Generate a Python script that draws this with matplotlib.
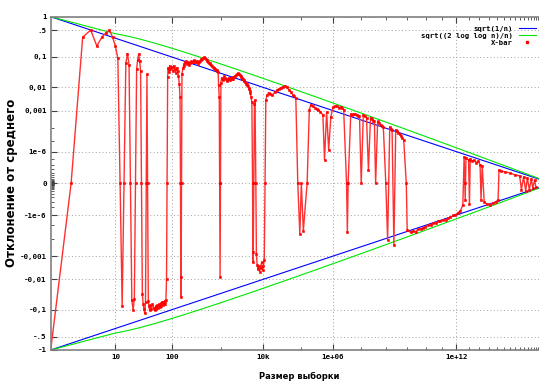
import numpy as np
import matplotlib
matplotlib.use('Agg')
import matplotlib.pyplot as plt
from matplotlib.lines import Line2D

# показатели степени нелинейных осей
PX = 0.06
PY = 0.12

# X-bar: (размер выборки, отклонение от среднего)
xbar = [(1, -1), (2, 0), (3, .333), (4, .5), (5, .2), (6, .333), (7, .429),
        (8, .5), (9, .333), (10, .2), (11, .0909), (12, 0),
        (13, -.077), (14, 0), (15, .067), (16, .125), (17, .059), (18, 0),
        (19, -.053), (20, -.1), (21, -.048), (22, 0), (23, .043), (24, .083),
        (25, .12), (26, .077), (27, .037), (28, 0), (29, -.034), (30, -.067),
        (31, -.097), (32, -.125), (33, -.06), (34, 0), (35, .029), (36, 0),
        (37, -.054), (38, -.079), (39, -.103), (40, -.075), (42, -.095), (44, -.068),
        (46, -.087), (48, -.104), (50, -.08), (52, -.096), (54, -.074), (56, -.089),
        (58, -.069), (60, -.083), (62, -.065), (64, -.078), (66, -.061), (68, -.074),
        (70, -.057), (72, -.069), (74, -.054), (76, -.066), (78, -.051), (80, -.01),
        (82, 0), (84, .024), (86, .047), (88, .034), (90, .044), (92, .054),
        (95, .042), (100, .05), (105, .038), (110, .055), (115, .044), (120, .033),
        (125, .048), (130, .038), (135, .026), (140, .014), (145, .004), (148, 0),
        (150, -.008), (152, -.04), (155, 0), (158, .03), (165, .045), (175, .063),
        (190, .074), (205, .068), (220, .059), (240, .075), (260, .069), (280, .08),
        (300, .073), (330, .064), (360, .078), (390, .085), (420, .095), (450, .1),
        (480, .088), (520, .077), (560, .068), (600, .06), (650, .052), (700, .047),
        (760, .042), (820, .039), (880, .035), (900, .012), (930, .004), (950, 0),
        (970, -.008), (990, 0), (1010, .015), (1050, .022), (1100, .018),
        (1200, .025), (1300, .02), (1400, .017), (1500, .022), (1600, .019),
        (1750, .024), (1900, .02), (2100, .026), (2300, .029), (2500, .032),
        (2700, .027), (2900, .024), (3100, .021), (3300, .018), (3600, .016),
        (3900, .013), (4200, .011), (4500, .009), (4800, .006), (5000, .004),
        (5200, .0025), (5400, 0), (5500, -.0006), (5600, -.002), (5800, 0),
        (6000, .002), (6200, .003), (6500, 0), (6700, -.0008), (7000, -.0025),
        (7300, -.004), (7600, -.003), (8000, -.005), (8500, -.0035), (9000, -.002),
        (9500, -.0045), (1e4, -.003), (1.05e4, -.0015), (1.1e4, 0),
        (1.15e4, .0032), (1.35e4, .0062), (1.7e4, .0051), (2.3e4, .0081),
        (2.8e4, .0097), (3.6e4, .0115), (4.7e4, .0081), (6e4, .0051), (7.3e4, .0038),
        (8.3e4, 0), (9.5e4, -5e-5), (1.05e5, 0), (1.2e5, -2.8e-5), (1.55e5, 0),
        (1.8e5, 1.1e-3), (2e5, 1.9e-3), (2.6e5, 1.4e-3), (3.4e5, 1.1e-3),
        (4.7e5, 6e-4), (5.3e5, 8e-8), (6.2e5, 8.7e-4), (7.2e5, 1.6e-6), (8.5e5, 4.7e-4),
        (1e6, 1.5e-3), (1.35e6, 1.6e-3), (1.8e6, 1.5e-3), (2.3e6, 1.1e-3),
        (2.9e6, 0), (3.1e6, -3.5e-5), (3.3e6, 0), (4.1e6, 6.8e-4), (5.2e6, 7e-4),
        (6.7e6, 5.9e-4), (8.6e6, 5.3e-4), (1e7, 0), (1.2e7, 6e-4), (1.6e7, 4.2e-4),
        (1.9e7, 8e-10), (2.3e7, 4.2e-4), (3e7, 2.8e-4), (3.7e7, 0), (4.5e7, 2.6e-4),
        (6e7, 1.6e-4), (7.8e7, 1.2e-4), (1e8, 0), (1.2e8, -1.2e-4), (1.5e8, 1.2e-4),
        (1.9e8, 7.8e-5), (2.3e8, -2.5e-4), (2.8e8, 7.8e-5), (3.7e8, 4.8e-5),
        (4.9e8, 2.9e-5), (6.7e8, 1.4e-5), (9e8, 0), (1e9, -2.4e-5), (1.5e9, -3.8e-5),
        (2e9, -3e-5), (2.7e9, -3.4e-5), (3.5e9, -2.2e-5), (5e9, -2.1e-5),
        (7e9, -1.6e-5), (9.5e9, -1.5e-5), (1.4e10, -9e-6), (1.9e10, -9.5e-6),
        (2.7e10, -7e-6), (3.8e10, -6.5e-6), (5.5e10, -4.5e-6), (7.8e10, -4.6e-6),
        (1.2e11, -3.2e-6), (1.7e11, -3.4e-6), (2.6e11, -2e-6), (3.7e11, -1.8e-6),
        (6e11, -1.1e-6), (8.5e11, -9e-7), (1.4e12, -5e-7), (2.1e12, -3e-7),
        (3.3e12, -4e-8), (4.2e12, 2.2e-7), (4.8e12, 0), (5.2e12, -4.3e-9),
        (6e12, 1.6e-7), (1e13, 8e-8), (1.2e13, -2.6e-8), (1.4e13, 1.2e-7),
        (2e13, 5.7e-8), (3.3e13, 7e-8), (5e13, 2.6e-8), (8e13, 5.7e-8),
        (1.2e14, 1.1e-8), (1.5e14, -4.3e-9), (2e14, 7e-9), (3.2e14, -1.1e-8),
        (6e14, -2.6e-8), (1.5e15, -4e-8), (3.4e15, -1.7e-8), (7.5e15, -1.1e-8),
        (1.5e16, -4.3e-9), (2e16, 8e-10), (3.5e16, 4.2e-10), (1.4e17, 2.1e-10),
        (9e17, 1e-10), (7.4e18, 1.7e-11), (8e19, 6e-12), (2e20, -1.8e-12),
        (7e20, 1.8e-12), (2.5e21, -6e-12), (8e21, 4.6e-13), (3.2e22, -1.8e-12),
        (1.5e23, 8.6e-14), (5e23, -8.6e-14), (3e24, 1e-14), (1e25, -1e-14),
        # промежуточные точки (дрожание полосы)
        (170, .055), (182, .07), (198, .062), (212, .071), (230, .066), (250, .07),
        (270, .077), (290, .071), (315, .078), (345, .07), (375, .082), (405, .089),
        (435, .092), (465, .096), (500, .081), (540, .072), (580, .065), (625, .057),
        (675, .05), (730, .045), (790, .041), (850, .037),
        (1150, .021), (1250, .022), (1350, .018), (1450, .02), (1550, .021),
        (1680, .022), (1820, .021), (2000, .023), (2200, .027), (2400, .03),
        (2600, .029), (2800, .025), (3000, .022), (3200, .02), (3450, .017),
        (3750, .014), (4050, .012), (4350, .0095), (4650, .0075),
        (1.25e4, .005), (1.5e4, .0055), (2e4, .0068), (2.55e4, .009), (3.2e4, .0105),
        (4.1e4, .01), (5.3e4, .0065), (6.6e4, .0044),
        (2.3e5, 1.6e-3), (3e5, 1.2e-3), (3.9e5, 9e-4),
        (1.15e6, 1.6e-3), (1.55e6, 1.4e-3), (2.05e6, 1.3e-3), (4.6e6, 6e-4),
        (5.9e6, 6.5e-4), (7.6e6, 5.5e-4), (1.4e7, 5e-4), (2.6e7, 3.5e-4),
        (3.3e7, 2.8e-4), (5.2e7, 2e-4), (6.9e7, 1.4e-4), (1.7e8, 9e-5),
        (3.2e8, 6e-5), (4.3e8, 3.7e-5), (5.7e8, 2e-5)]
xbar.sort()
xbar_n = [p[0] for p in xbar]
xbar_v = [p[1] for p in xbar]

# теоретические границы
n_line = np.logspace(0, 27, 500)
n_green = np.concatenate(([1.0], np.logspace(1, 27, 500)))

x_ticks = [10, 100, 1e4, 1e6, 1e12]
x_labels = ['10', '100', '10k', '1e+06', '1e+12']
y_ticks = [1, .5, .1, .01, .001, 1e-6, 0, -1e-6, -.001, -.01, -.1, -.5, -1]
y_labels = ['1', '.5', '0,1', '0,01', '0,001', '1e-6', '0', '-1e-6', '-0,001',
            '-0,01', '-0,1', '-.5', '-1']


def fwd_x(n):
    n = np.clip(np.asarray(n, dtype=float), 1e-30, None)
    return 1.0 - n ** (-PX)


def inv_x(t):
    t = np.minimum(np.asarray(t, dtype=float), 1 - 1e-12)
    return (1.0 - t) ** (-1.0 / PX)


def fwd_y(v):
    v = np.asarray(v, dtype=float)
    return np.sign(v) * np.abs(v) ** PY


def inv_y(t):
    t = np.asarray(t, dtype=float)
    return np.sign(t) * np.abs(t) ** (1.0 / PY)


plt.rcParams['font.family'] = 'DejaVu Sans Mono'
plt.rcParams['font.weight'] = 'bold'

fig = plt.figure(figsize=(5.39, 3.81), dpi=100)
ax = fig.add_axes([50.7 / 539, 1 - 350 / 381, 1 - 50.7 / 539, 333.3 / 381])
ax.set_xscale('function', functions=(fwd_x, inv_x))
ax.set_yscale('function', functions=(fwd_y, inv_y))

blue = 1 / np.sqrt(n_line)
with np.errstate(divide='ignore', invalid='ignore'):
    green = np.sqrt(2 * np.log(np.log(n_green)) / n_green)
green[0] = 1.0

ax.plot(n_line, blue, color='#0000ff', lw=0.8)
ax.plot(n_line, -blue, color='#0000ff', lw=0.8)
ax.plot(n_green, green, color='#00e600', lw=0.8)
ax.plot(n_green, -green, color='#00e600', lw=0.8)
ax.plot(xbar_n, xbar_v, color='#ff3030', lw=1.0, marker='s', ms=2.0,
        mec='#ff0000', mfc='#ff0000', mew=0.4)

ax.set_xlim(1, 10 ** 26.6)
ax.set_ylim(-1, 1)

ax.set_xticks(x_ticks)
ax.set_xticklabels(x_labels)
minor_x = [10.0 ** k for k in range(3, 27) if k not in (4, 6, 12)]
ax.set_xticks(minor_x, minor=True)
ax.set_yticks(y_ticks)
ax.set_yticklabels(y_labels)
minor_y = [s * 10.0 ** -k for k in (4, 5) + tuple(range(7, 22)) for s in (1, -1)]
ax.set_yticks(minor_y, minor=True)

ax.tick_params(axis='both', which='both', direction='in', top=True, right=False,
               labelsize=5.4, colors='#404040', labelcolor='black')
ax.tick_params(which='major', length=4, pad=3)
ax.tick_params(which='minor', length=2.5)
ax.grid(True, which='major', color='#a0a0a0', lw=0.7, ls=(0, (1, 2.5)))

for side in ('top', 'bottom', 'left'):
    ax.spines[side].set_color('#808080')
    ax.spines[side].set_linewidth(1.2)
ax.spines['right'].set_visible(False)

ax.set_xlabel('Размер выборки', fontsize=6, fontweight='bold', family='DejaVu Sans')
ax.set_ylabel('Отклонение от среднего', fontsize=8.5, fontweight='bold',
              family='DejaVu Sans')
ax.xaxis.set_label_coords(0.51, -0.065)
ax.yaxis.set_label_coords(-0.067, 0.5)

handles = [Line2D([], [], color='#0000ff', lw=0.8),
           Line2D([], [], color='#00e600', lw=0.8),
           Line2D([], [], color='#ff0000', ls='none', marker='s', ms=1.8)]
ax.legend(handles, ['sqrt(1/n)', 'sqrt((2 log log n)/n)', 'X-bar'],
          loc='upper right', bbox_to_anchor=(1.0, 0.982), frameon=False,
          markerfirst=False, fontsize=5.2, handlelength=2.4, handletextpad=0.8,
          labelspacing=0.15, borderaxespad=0.2, borderpad=0.2)

fig.savefig('out.png', dpi=100)
